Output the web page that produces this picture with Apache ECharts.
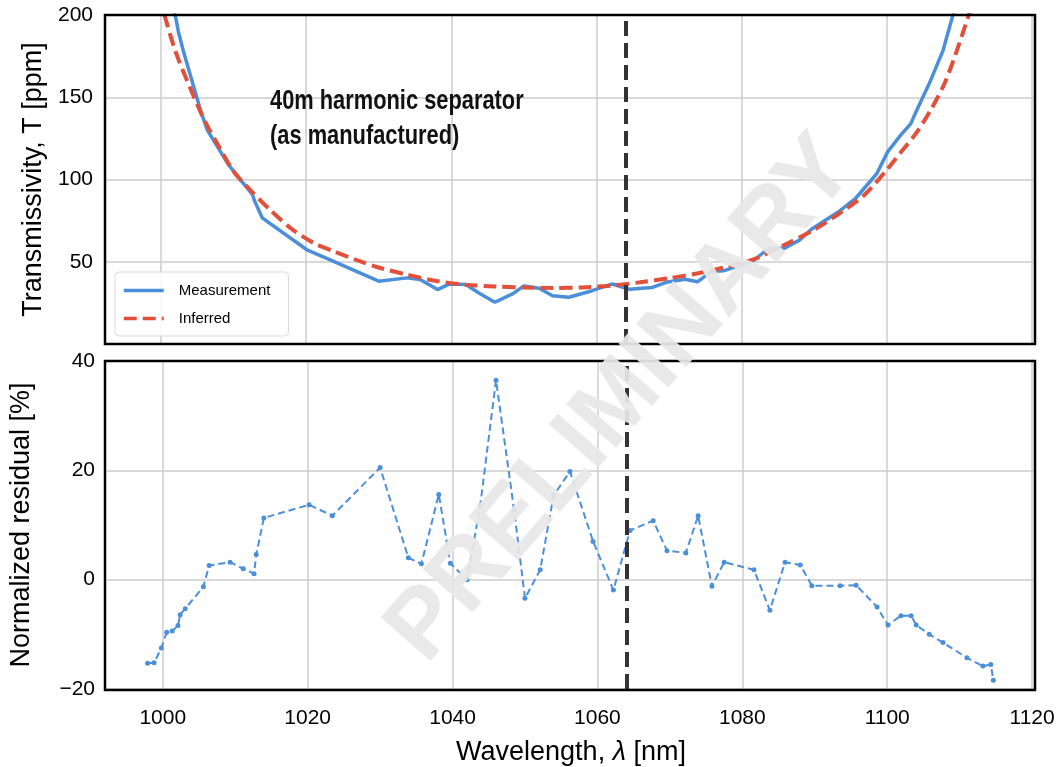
<!DOCTYPE html>
<html><head><meta charset="utf-8">
<script src="https://cdn.jsdelivr.net/npm/echarts@6/dist/echarts.min.js"></script>
<style>html,body{margin:0;padding:0;background:#fff}#c{width:1060px;height:767px}</style>
</head><body><div id="c"></div>
<script>
// ---- data ----
const wavelengths = [997.9, 998.8, 999.8, 1000.55, 1001.3, 1002.1, 1002.4, 1003.1, 1005.6, 1006.4, 1009.3, 1011.1, 1012.6, 1012.9, 1013.95, 1020.2, 1023.4, 1030.0, 1033.9, 1035.7, 1038.1, 1039.7, 1042.0, 1043.8, 1046.0, 1048.5, 1050.0, 1052.1, 1053.95, 1056.2, 1059.4, 1062.2, 1064.5, 1067.7, 1069.6, 1072.2, 1073.9, 1075.8, 1077.5, 1081.6, 1083.8, 1085.9, 1088.0, 1089.6, 1093.5, 1095.7, 1098.6, 1100.1, 1101.9, 1103.3, 1104.0, 1105.8, 1107.7, 1111.0, 1113.2, 1114.3, 1114.65];
const measurement = [290, 265, 245, 228, 213, 197, 190, 178, 140, 130, 109, 99, 91, 87, 76.7, 57.0, 51, 38.2, 40.2, 39.2, 33.1, 36.4, 36.2, 31.0, 25.4, 30.6, 35.3, 33.9, 29.3, 28.4, 32.4, 36.5, 33.3, 34.4, 37.5, 39.4, 37.8, 44.0, 44.5, 50.6, 58.5, 58.2, 63.3, 69.8, 80.9, 88.6, 103.5, 116.8, 127, 134, 141, 158, 178, 230, 265, 285, 300];
const residual = [-15.3, -15.2, -12.5, -9.6, -9.4, -8.4, -6.4, -5.3, -1.3, 2.6, 3.2, 2.0, 1.1, 4.6, 11.3, 13.7, 11.7, 20.5, 4.0, 2.9, 15.6, 3.0, 0.0, 13.4, 36.5, 12.7, -3.4, 1.8, 15.4, 19.8, 7.0, -1.9, 9.0, 10.8, 5.3, 4.9, 11.7, -1.2, 3.2, 1.8, -5.6, 3.2, 2.7, -1.1, -1.1, -1.0, -5.0, -8.3, -6.6, -6.6, -8.3, -10.0, -11.5, -14.3, -15.8, -15.5, -18.4];
const inferredWavelengths = [998, 1000, 1002, 1004, 1006, 1008, 1010, 1012, 1015, 1018, 1021, 1024, 1027, 1030, 1034, 1038, 1042, 1046, 1050, 1054, 1058, 1062, 1066, 1070, 1074, 1078, 1082, 1086, 1090, 1094, 1097, 1100, 1102, 1104, 1106, 1108, 1110, 1112];
const inferred = [245, 208, 178, 156, 136, 120, 105, 95, 81.7, 70, 61.5, 56, 51, 46.5, 42, 38.3, 36, 35, 34.4, 34.1, 34.4, 35.5, 37.5, 40, 43, 47, 52, 60.5, 69.5, 81, 91, 106, 117, 128, 142, 159, 183, 210];
const xTicks = [1000, 1020, 1040, 1060, 1080, 1100, 1120];
const laserWavelength = 1064;
const annotation = '40m harmonic separator\n(as manufactured)';

// ---- layout / style ----
const L = 105, W = 930, TOP1 = 15, TOP2 = 361, H = 329;
const BLUE = '#4a8fd8', RED = '#e0503a';
const SANS = '"Liberation Sans", "DejaVu Sans", sans-serif';
const chart = echarts.init(document.getElementById('c'));
const fmtMinus = v => (v < 0 ? '\u2212' + Math.abs(v) : String(v));
const vline = {
  symbol: ['none', 'none'], silent: true, label: {show: false},
  lineStyle: {color: '#333', width: 4, type: [15, 7]},
  data: [{xAxis: laserWavelength}]
};
const xBase = (gi, showLabel) => ({
  gridIndex: gi, type: 'value', min: 992.3, max: 1120.4,
  axisLine: {show: false},
  axisTick: {show: false, customValues: xTicks},
  axisLabel: {show: showLabel, customValues: xTicks, color: '#000', fontSize: 21, fontFamily: SANS, margin: 19,
              formatter: v => String(v)},
  splitLine: {show: true, lineStyle: {color: '#cccccc', width: 1.5}}
});
const frame = top => ({type: 'rect', z: 60, silent: true,
  shape: {x: L, y: top, width: W, height: H},
  style: {fill: 'none', stroke: '#000', lineWidth: 2.5}});
chart.setOption({
  animation: false,
  grid: [
    {left: L, top: TOP1, width: W, height: H},
    {left: L, top: TOP2, width: W, height: H}
  ],
  xAxis: [
    xBase(0, false),
    Object.assign(xBase(1, true), {
      name: 'Wavelength, {i|λ} [nm]', nameLocation: 'middle', nameGap: 50,
      nameTextStyle: {color: '#000', fontSize: 27, fontFamily: SANS,
        rich: {i: {fontStyle: 'italic', fontSize: 27, fontFamily: SANS, color: '#000'}}}
    })
  ],
  yAxis: [
    {gridIndex: 0, type: 'value', min: 0, max: 200, interval: 50,
     axisLine: {show: false}, axisTick: {show: false},
     axisLabel: {color: '#000', fontSize: 21, fontFamily: SANS, margin: 12, formatter: v => (v === 0 ? '' : String(v))},
     splitLine: {show: true, lineStyle: {color: '#cccccc', width: 1.5}},
     name: 'Transmissivity, T [ppm]', nameLocation: 'middle', nameGap: 58, nameRotate: 90,
     nameTextStyle: {color: '#000', fontSize: 27, fontFamily: SANS}},
    {gridIndex: 1, type: 'value', min: -20, max: 40, interval: 20,
     axisLine: {show: false}, axisTick: {show: false},
     axisLabel: {color: '#000', fontSize: 21, fontFamily: SANS, margin: 12, formatter: fmtMinus},
     splitLine: {show: true, lineStyle: {color: '#cccccc', width: 1.5}},
     name: 'Normalized residual [%]', nameLocation: 'middle', nameGap: 72, nameRotate: 90,
     nameTextStyle: {color: '#000', fontSize: 27, fontFamily: SANS}}
  ],
  legend: {
    left: 115, top: 272, orient: 'vertical', data: ['Measurement', 'Inferred'],
    itemWidth: 40, itemHeight: 14, itemGap: 13, padding: [11, 18, 10, 7],
    borderColor: '#d9d9d9', borderWidth: 1, borderRadius: 4, backgroundColor: 'rgba(255,255,255,0.85)',
    lineStyle: {width: 3.5},
    itemStyle: {color: 'rgba(0,0,0,0)', borderWidth: 0, opacity: 0},
    textStyle: {fontSize: 15, fontFamily: SANS, color: '#000', padding: [0, 0, 0, 10]}
  },
  series: [
    {name: 'Measurement', type: 'line', xAxisIndex: 0, yAxisIndex: 0, z: 3,
     data: wavelengths.map((w, i) => [w, measurement[i]]),
     symbol: 'none', showSymbol: false,
     lineStyle: {color: BLUE, width: 3.5}, itemStyle: {color: BLUE}},
    {name: 'Inferred', type: 'line', xAxisIndex: 0, yAxisIndex: 0, z: 4,
     data: inferredWavelengths.map((w, i) => [w, inferred[i]]),
     symbol: 'none', showSymbol: false, smooth: 0.3,
     lineStyle: {color: RED, width: 4, type: [13, 6]}, itemStyle: {color: RED},
     markLine: vline},
    {name: 'Residual', type: 'line', xAxisIndex: 1, yAxisIndex: 1, z: 4,
     data: wavelengths.map((w, i) => [w, residual[i]]),
     symbol: 'circle', symbolSize: 5, showSymbol: true,
     lineStyle: {color: BLUE, width: 2, type: [7, 4]}, itemStyle: {color: BLUE},
     markLine: vline}
  ],
  graphic: [
    frame(TOP1), frame(TOP2),
    {type: 'text', x: 270, y: 118.5, z: 50, scaleX: 0.78,
     style: {text: annotation, font: 'bold 28px "Liberation Sans", "DejaVu Sans", sans-serif',
       fill: '#111', lineHeight: 35, align: 'left', verticalAlign: 'middle'}},
    {type: 'text', x: 622, y: 400, rotation: 49 * Math.PI / 180, z: 100,
     style: {text: 'PRELIMINARY', font: 'bold 96px "Liberation Sans", "DejaVu Sans", sans-serif',
       fill: 'rgba(231,231,231,0.93)', align: 'center', verticalAlign: 'middle'}}
  ]
});
</script></body></html>
